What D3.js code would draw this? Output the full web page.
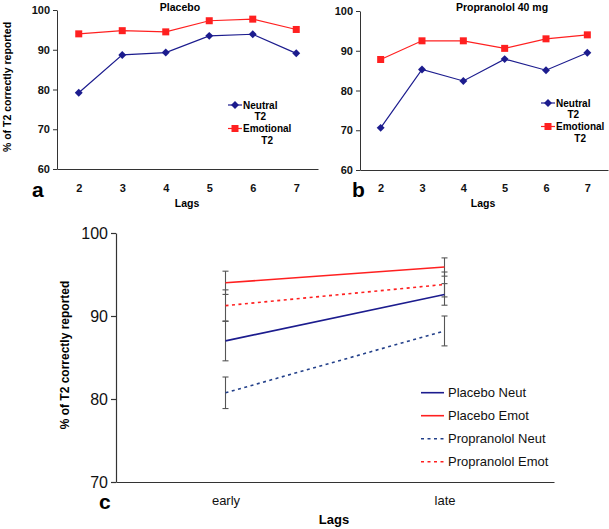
<!DOCTYPE html>
<html>
<head>
<meta charset="utf-8">
<script src="https://cdn.jsdelivr.net/npm/d3@7"></script>
<style>
    body { margin: 0; background: #fff; }
    svg { font-family: Arial, "Liberation Sans", sans-serif; }
</style>
</head>
<body>
<script>
//lag data for panel a and b
var lags = [2, 3, 4, 5, 6, 7];
var placeboNeutral = [79.2, 88.7, 89.3, 93.5, 93.9, 89.1];
var placeboEmotional = [94.0, 94.8, 94.5, 97.3, 97.7, 95.1];
var propNeutral = [70.6, 85.3, 82.4, 87.9, 85.1, 89.5];
var propEmotional = [87.8, 92.5, 92.5, 90.6, 93.0, 94.0];
var topTicks = [60, 70, 80, 90, 100];

//early / late data for panel c
var phases = ["early", "late"];
var seriesNames = ["Placebo Neut", "Placebo Emot", "Propranolol Neut", "Propranolol Emot"];
var placeboNeutMean = [87.0, 92.6];
var placeboNeutErr = [2.4, 1.3];
var placeboEmotMean = [94.0, 95.9];
var placeboEmotErr = [1.4, 1.1];
var propNeutMean = [80.75, 88.2];
var propNeutErr = [1.9, 1.8];
var propEmotMean = [91.25, 93.8];
var propEmotErr = [1.9, 1.5];
var bottomTicks = [70, 80, 90, 100];

var navy = "#1c1c8e";
var red = "#ff2020";
var dotBlue = "#23408a";

var width = 609;
var height = 529;

const svg = d3.select("body").append("svg")
    .attr("width", width)
    .attr("height", height);

//small lag chart (panel a / b)
function lagChart(opt) {
    var x = d3.scalePoint()
        .domain(lags)
        .range([opt.left, opt.right])
        .padding(0.5);

    var y = d3.scaleLinear()
        .domain([60, 100])
        .range([opt.bottom, opt.top]);

    var g = svg.append("g");

    //y axis
    g.append("g")
        .attr("transform", `translate(${opt.left},0)`)
        .call(d3.axisLeft(y).tickValues(topTicks).tickSize(4).tickSizeOuter(0).tickPadding(3))
        .call(a => a.selectAll("text").attr("font-size", 11).attr("font-weight", "bold").attr("fill", "#111").attr("font-family", "Arial, 'Liberation Sans', sans-serif"))
        .call(a => a.selectAll("line, path").attr("stroke", "#333"));

    //x axis
    g.append("g")
        .attr("transform", `translate(0,${opt.bottom})`)
        .call(d3.axisBottom(x).tickSize(0).tickSizeOuter(0).tickPadding(opt.xPad))
        .call(a => a.selectAll("text").attr("font-size", 11).attr("font-weight", "bold").attr("fill", "#111").attr("font-family", "Arial, 'Liberation Sans', sans-serif"))
        .call(a => a.select(".domain").attr("stroke", "#333"));

    var line = d3.line()
        .x((d, i) => x(lags[i]))
        .y(d => y(d));

    //neutral line with diamonds
    g.append("path")
        .datum(opt.neutral)
        .attr("fill", "none")
        .attr("stroke", navy)
        .attr("stroke-width", 1.2)
        .attr("d", line);

    g.append("g")
        .selectAll("path").data(opt.neutral).enter().append("path")
            .attr("d", d3.symbol(d3.symbolDiamond2, 40))
            .attr("transform", (d, i) => `translate(${x(lags[i])},${y(d)})`)
            .attr("fill", navy);

    //emotional line with squares
    g.append("path")
        .datum(opt.emotional)
        .attr("fill", "none")
        .attr("stroke", red)
        .attr("stroke-width", 1.2)
        .attr("d", line);

    g.append("g")
        .selectAll("rect").data(opt.emotional).enter().append("rect")
            .attr("x", (d, i) => x(lags[i]) - 3.5)
            .attr("y", d => y(d) - 3.5)
            .attr("width", 7)
            .attr("height", 7)
            .attr("fill", red);

    //title
    g.append("text")
        .attr("x", opt.titleX)
        .attr("y", 10.5)
        .attr("text-anchor", "middle")
        .attr("font-size", 10.5)
        .attr("font-weight", "bold")
        .text(opt.title);

    //x label
    g.append("text")
        .attr("x", opt.lagsX)
        .attr("y", 207)
        .attr("text-anchor", "middle")
        .attr("font-size", 10.5)
        .attr("font-weight", "bold")
        .text("Lags");

    //panel letter
    g.append("text")
        .attr("x", opt.letterX)
        .attr("y", 197)
        .attr("font-size", 21)
        .attr("font-weight", "bold")
        .text(opt.letter);

    //legend
    var lg = g.append("g");
    var lx = opt.legendX;
    var ly = opt.legendY;
    var items = [
        {name: "Neutral", color: navy, y: ly},
        {name: "Emotional", color: red, y: ly + 23.5}
    ];
    items.forEach(function(it, k) {
        lg.append("line")
            .attr("x1", lx).attr("x2", lx + 14)
            .attr("y1", it.y).attr("y2", it.y)
            .attr("stroke", it.color)
            .attr("stroke-width", 1.2);
        if (k == 0) {
            lg.append("path")
                .attr("d", d3.symbol(d3.symbolDiamond2, 40))
                .attr("transform", `translate(${lx + 7},${it.y})`)
                .attr("fill", it.color);
        } else {
            lg.append("rect")
                .attr("x", lx + 3.5).attr("y", it.y - 3.5)
                .attr("width", 7).attr("height", 7)
                .attr("fill", it.color);
        }
        var t = lg.append("text")
            .attr("x", lx + 15)
            .attr("y", it.y + 3.5)
            .attr("font-size", 10)
            .attr("font-weight", "bold")
            .text(it.name);
        var w = t.node().getComputedTextLength();
        lg.append("text")
            .attr("x", lx + 15 + w / 2)
            .attr("y", it.y + 15)
            .attr("text-anchor", "middle")
            .attr("font-size", 10)
            .attr("font-weight", "bold")
            .text("T2");
    });
}

lagChart({
    left: 57, right: 318, top: 10, bottom: 169, xPad: 15,
    neutral: placeboNeutral, emotional: placeboEmotional,
    title: "Placebo", titleX: 180, lagsX: 187,
    letter: "a", letterX: 32,
    legendX: 228, legendY: 105
});

lagChart({
    left: 360, right: 608, top: 11, bottom: 170, xPad: 14,
    neutral: propNeutral, emotional: propEmotional,
    title: "Propranolol 40 mg", titleX: 502, lagsX: 483,
    letter: "b", letterX: 352,
    legendX: 541, legendY: 103
});

//panel a y axis title
svg.append("text")
    .attr("transform", "translate(11,87) rotate(-90)")
    .attr("text-anchor", "middle")
    .attr("font-size", 10.5)
    .attr("font-weight", "bold")
    .text("% of T2 correctly reported");

//panel c
{
    var x = d3.scalePoint()
        .domain(phases)
        .range([116, 554])
        .padding(0.5);

    var y = d3.scaleLinear()
        .domain([70, 100])
        .range([482, 233]);

    var series = [
        {name: seriesNames[0], mean: placeboNeutMean, err: placeboNeutErr, color: navy, dash: null},
        {name: seriesNames[1], mean: placeboEmotMean, err: placeboEmotErr, color: red, dash: null},
        {name: seriesNames[2], mean: propNeutMean, err: propNeutErr, color: dotBlue, dash: "3,3.5"},
        {name: seriesNames[3], mean: propEmotMean, err: propEmotErr, color: red, dash: "3,3.5"}
    ];

    svg.append("g")
        .attr("transform", "translate(116,0)")
        .call(d3.axisLeft(y).tickValues(bottomTicks).tickSize(5).tickSizeOuter(0).tickPadding(3))
        .call(a => a.selectAll("text").attr("font-size", 16).attr("fill", "#111").attr("font-family", "Arial, 'Liberation Sans', sans-serif"))
        .call(a => a.selectAll("line, path").attr("stroke", "#333").attr("stroke-width", 1.2));

    svg.append("g")
        .attr("transform", "translate(0,482)")
        .call(d3.axisBottom(x).tickSize(0).tickSizeOuter(0).tickPadding(14))
        .call(a => a.selectAll("text").attr("font-size", 13).attr("fill", "#111").attr("font-family", "Arial, 'Liberation Sans', sans-serif"))
        .call(a => a.select(".domain").attr("stroke", "#333").attr("stroke-width", 1.2));

    var line = d3.line()
        .x((d, i) => x(phases[i]))
        .y(d => y(d));

    //error bars
    var eg = svg.append("g").attr("stroke", "#555").attr("stroke-width", 1.1);
    series.forEach(function(s) {
        s.mean.forEach(function(m, i) {
            var cx = x(phases[i]);
            var hi = y(m + s.err[i]);
            var lo = y(m - s.err[i]);
            eg.append("line").attr("x1", cx).attr("x2", cx).attr("y1", hi).attr("y2", lo);
            eg.append("line").attr("x1", cx - 3).attr("x2", cx + 3).attr("y1", hi).attr("y2", hi);
            eg.append("line").attr("x1", cx - 3).attr("x2", cx + 3).attr("y1", lo).attr("y2", lo);
        });
    });

    //series lines
    svg.append("g")
        .selectAll("path").data(series).enter().append("path")
            .attr("fill", "none")
            .attr("stroke", d => d.color)
            .attr("stroke-width", 1.6)
            .attr("stroke-dasharray", d => d.dash)
            .attr("d", d => line(d.mean));

    //legend
    var lg = svg.append("g");
    series.forEach(function(s, k) {
        var ly = 392.7 + k * 23;
        lg.append("line")
            .attr("x1", 421).attr("x2", 444)
            .attr("y1", ly).attr("y2", ly)
            .attr("stroke", s.color)
            .attr("stroke-width", 1.6)
            .attr("stroke-dasharray", s.dash);
        lg.append("text")
            .attr("x", 448)
            .attr("y", ly + 4.5)
            .attr("font-size", 13)
            .attr("fill", "#111")
            .text(s.name);
    });

    //titles
    svg.append("text")
        .attr("transform", "translate(69,355) rotate(-90)")
        .attr("text-anchor", "middle")
        .attr("font-size", 12)
        .attr("font-weight", "bold")
        .text("% of T2 correctly reported");

    svg.append("text")
        .attr("x", 334)
        .attr("y", 524)
        .attr("text-anchor", "middle")
        .attr("font-size", 13)
        .attr("font-weight", "bold")
        .text("Lags");

    svg.append("text")
        .attr("x", 99)
        .attr("y", 509)
        .attr("font-size", 21)
        .attr("font-weight", "bold")
        .text("c");
}
</script>
</body>
</html>
